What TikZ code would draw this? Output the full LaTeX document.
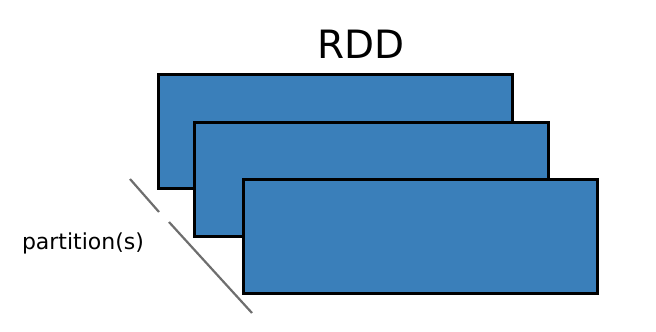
\documentclass[tikz,border=0pt]{standalone}
\usepackage{fontspec}
\setmainfont{DejaVu Sans}
\definecolor{partblue}{HTML}{3A7FBA}
\definecolor{sepgray}{HTML}{6E6E6E}
\begin{document}
\begin{tikzpicture}[x=1pt,y=-1pt,
  partbox/.style={draw=black, line width=3pt, fill=partblue, minimum width=354pt, minimum height=114pt, inner sep=0pt, anchor=north west},
  sepline/.style={draw=sepgray, line width=2.2pt}]
\useasboundingbox (0,0) rectangle (656,332);
\node[partbox] (p1) at (157,73) {};
\node[partbox] (p2) at (193,121) {};
\node[partbox] (p3) at (242,178) {};
\node (title) at (361,44) {\fontsize{39}{44}\selectfont RDD};
\node (lbl) at (83,243) {\fontsize{22}{26}\selectfont partition(s)};
\coordinate (a1) at (130,179);
\coordinate (a2) at (159,212);
\coordinate (b1) at (169,222);
\coordinate (b2) at (252,313);
\draw[sepline] (a1) -- (a2);
\draw[sepline] (b1) -- (b2);
\end{tikzpicture}
\end{document}
